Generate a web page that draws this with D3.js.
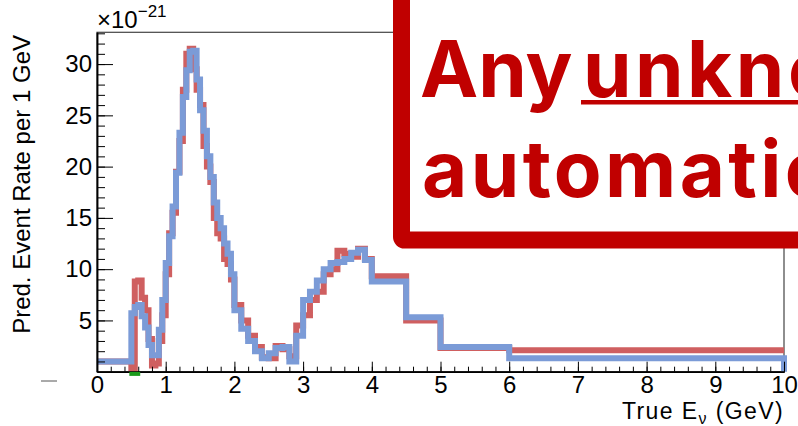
<!DOCTYPE html>
<html>
<head>
<meta charset="utf-8">
<script src="https://cdn.jsdelivr.net/npm/d3@7"></script>
<style>
  body { margin: 0; background: #fff; }
  svg { display: block; }
  .axis text { font-family: "Liberation Sans", Arial, sans-serif; font-size: 24px; fill: #000; }
  .axis path, .axis line { stroke: #000; }
</style>
</head>
<body>
<svg id="chart" width="798" height="426"></svg>
<script>
// bin edges in GeV
const binEdges = [0, 0.5,
  0.55, 0.6, 0.65, 0.7, 0.75, 0.8, 0.85, 0.9, 0.95, 1.0,
  1.05, 1.1, 1.15, 1.2, 1.25, 1.3, 1.35, 1.4, 1.45, 1.5,
  1.55, 1.6, 1.65, 1.7, 1.75, 1.8, 1.85, 1.9, 1.95, 2.0,
  2.1, 2.2, 2.3, 2.4, 2.5, 2.6, 2.7, 2.8, 2.9, 3.0,
  3.1, 3.2, 3.3, 3.4, 3.5, 3.6, 3.7, 3.8, 3.9, 4.0,
  4.5, 5.0, 6.0, 10.0];

// predicted rates, units of 1e-21
const blueRate = [1.0,
  5.7, 6.3, 6.5, 5.4, 4.3, 2.6, 1.6, 1.6, 4.1, 7.0,
  10.6, 13.2, 16.1, 19.4, 23.3, 26.8, 29.4, 31.2, 31.3, 28.5,
  25.5, 23.5, 21.0, 19.0, 16.5, 15.0, 14.0, 12.5, 11.5, 9.5,
  6.0, 4.2, 3.0, 2.0, 1.3, 1.8, 2.3, 2.4, 1.0, 3.5,
  7.0, 7.8, 8.9, 10.0, 10.6, 10.7, 11.0, 11.6, 11.9, 10.9,
  8.8, 5.3, 2.4, 1.3];

const redRate = [1.0,
  0.3, 8.8, 8.9, 7.2, 6.0, 3.2, 0.6, 0.8, 3.0, 5.5,
  9.5, 13.5, 15.5, 19.5, 22.5, 27.5, 31.0, 31.5, 29.5, 27.5,
  26.0, 22.0, 20.0, 18.5, 15.0, 13.5, 13.0, 11.0, 10.5, 9.0,
  6.5, 5.0, 3.5, 2.4, 1.4, 1.3, 2.5, 2.2, 1.5, 4.5,
  5.5, 7.0, 7.8, 9.5, 10.0, 11.8, 11.5, 11.2, 12.0, 11.0,
  9.3, 5.0, 2.3, 2.1];

const greenEdges = [0.5, 0.6];
const greenRate = [0];

const xTicks = [0, 1, 2, 3, 4, 5, 6, 7, 8, 9, 10];
const yTicks = [5, 10, 15, 20, 25, 30];

const yTitle = "Pred. Event Rate per 1 GeV";
const bannerLine1 = ["Any ", "unknown"];
const bannerLine2 = "automatically";

const svg = d3.select("#chart");
const margin = {left: 97, right: 14, top: 32.3, bottom: 54.3};
const W = +svg.attr("width"), H = +svg.attr("height");

const x = d3.scaleLinear().domain([0, 10]).range([margin.left, W - margin.right]);
const y = d3.scaleLinear().domain([0, 33.1]).range([H - margin.bottom, margin.top]);

function steps(edges, vals) {
  const pts = [];
  vals.forEach((v, i) => { pts.push([edges[i], v]); pts.push([edges[i + 1], v]); });
  return pts;
}

const line = d3.line().x(d => x(d[0])).y(d => y(d[1]));

// frame
svg.append("rect")
    .attr("x", x(0)).attr("y", y.range()[1])
    .attr("width", x(10) - x(0)).attr("height", y.range()[0] - y.range()[1])
    .attr("fill", "none").attr("stroke", "#444").attr("stroke-width", 1.2);

svg.append("path")
    .datum(steps(binEdges, redRate))
    .attr("d", line)
    .attr("fill", "none").attr("stroke", "#cf5f60")
    .attr("stroke-width", 6).attr("stroke-linejoin", "miter");

const bluePts = steps(binEdges, blueRate);
bluePts.push([10, 0]);
svg.append("path")
    .datum(bluePts)
    .attr("d", line)
    .attr("fill", "none").attr("stroke", "#7b9bd7")
    .attr("stroke-width", 6).attr("stroke-linejoin", "miter");

// axes, ROOT style: ticks inside
const gx = svg.append("g").attr("class", "axis")
    .attr("transform", "translate(0," + y(0) + ")");
gx.call(d3.axisBottom(x).tickValues(d3.range(0, 10.01, 0.2)).tickSize(-5).tickSizeOuter(0).tickFormat(""));
gx.append("g").call(d3.axisBottom(x).tickValues(xTicks).tickSize(-10).tickSizeOuter(0).tickPadding(4).tickFormat(d3.format("d")));
gx.selectAll(".domain").attr("stroke-width", 1.5);

const gy = svg.append("g").attr("class", "axis")
    .attr("transform", "translate(" + x(0) + ",0)");
gy.call(d3.axisLeft(y).tickValues(d3.range(1, 34, 1)).tickSize(-8).tickSizeOuter(0).tickFormat(""));
gy.append("g").call(d3.axisLeft(y).tickValues(yTicks).tickSize(-16).tickSizeOuter(0).tickPadding(5).tickFormat(d3.format("d")));
gy.selectAll(".domain").attr("stroke-width", 1.5);

// green histogram sits just under the axis line
svg.append("path")
    .datum(steps(greenEdges, greenRate))
    .attr("d", line)
    .attr("transform", "translate(0,2.2)")
    .attr("fill", "none").attr("stroke", "#1a9a1a")
    .attr("stroke-width", 4).attr("stroke-linecap", "square");

// exponent label
const ex = svg.append("text")
    .attr("x", x(0)).attr("y", 28)
    .style("font-family", "'Liberation Sans', Arial, sans-serif").style("font-size", "24px");
ex.append("tspan").text("\u00d710");
ex.append("tspan").attr("dy", -11).style("font-size", "17px").text("\u221221");

// axis titles
svg.append("text")
    .attr("transform", "translate(30,35) rotate(-90)")
    .attr("text-anchor", "end")
    .style("font-family", "'Liberation Sans', Arial, sans-serif").style("font-size", "24px")
    .text(yTitle);

const xt = svg.append("text")
    .attr("x", x(10)).attr("y", 419)
    .attr("text-anchor", "end")
    .style("font-family", "'Liberation Sans', Arial, sans-serif").style("font-size", "23px")
    .style("letter-spacing", "1.4px");
xt.append("tspan").text("True E");
xt.append("tspan").attr("dy", 5).style("font-size", "16px").text("\u03bd");
xt.append("tspan").attr("dy", -5).text(" (GeV)");

svg.append("line")
    .attr("x1", 41).attr("x2", 57).attr("y1", 381).attr("y2", 381)
    .attr("stroke", "#555").attr("stroke-width", 1);

// banner box
svg.append("rect")
    .attr("x", 401.5).attr("y", -40).attr("width", 600).attr("height", 280)
    .attr("rx", 3)
    .attr("fill", "#fff").attr("stroke", "#c00000").attr("stroke-width", 17);

const bannerFont = "Inter, Roboto, sans-serif";
const b1 = svg.append("text")
    .attr("x", 420).attr("y", 96.7)
    .attr("fill", "#c00000")
    .style("font-family", bannerFont).style("font-weight", 700).style("font-size", "78px");
b1.append("tspan").text(bannerLine1[0]);
b1.append("tspan").attr("x", 583).style("letter-spacing", "3.5px").text(bannerLine1[1]);
svg.append("rect")
    .attr("x", 581).attr("y", 100).attr("width", W - 581 + 10).attr("height", 4.5)
    .attr("fill", "#c00000");

svg.append("text")
    .attr("x", 422).attr("y", 196.7)
    .attr("fill", "#c00000")
    .style("font-family", bannerFont).style("font-weight", 700).style("font-size", "78px")
    .style("letter-spacing", "3.4px")
    .text(bannerLine2);
</script>
</body>
</html>
